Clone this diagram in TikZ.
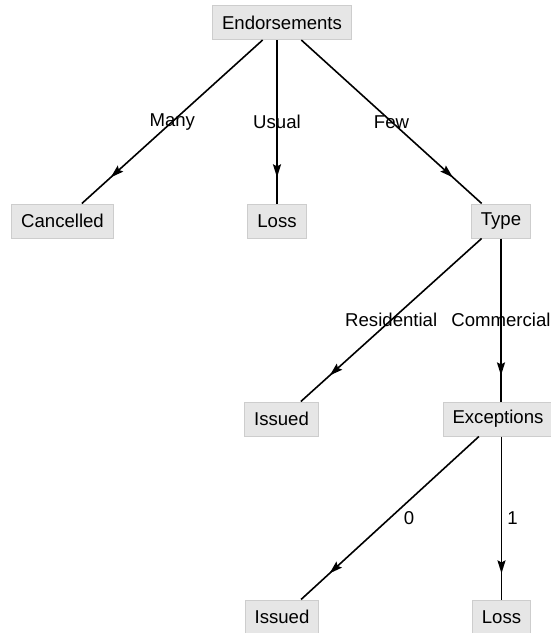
\documentclass[tikz,border=0pt]{standalone}
\usepackage{fontspec}
\setmainfont{Liberation Sans}
\usetikzlibrary{arrows.meta,decorations.markings}
\definecolor{boxfill}{HTML}{E6E6E6}
\definecolor{boxline}{HTML}{CDCDCD}
\tikzset{
  box/.style={draw=boxline, fill=boxfill, line width=1pt, inner xsep=9.5pt, minimum height=34pt, font=\fontsize{18.6}{22}\selectfont},
  lbl/.style={font=\fontsize{18.6}{22}\selectfont, inner sep=0pt},
  edge/.style={line width=1.6pt, postaction={decorate}, decoration={markings, mark=at position 0.84 with {\arrow{Stealth[length=13pt,width=8pt,inset=2pt]}}}}
}
\begin{document}
\begin{tikzpicture}[x=1pt,y=-1pt]
\useasboundingbox (0,0) rectangle (550,633);
\node[box] (end) at (282,22.5) {Endorsements};
\node[box] (can) at (62.5,221) {Cancelled};
\node[box] (loss1) at (277,221) {Loss};
\node[box] (type) at (501,221) {Type};
\node[box] (iss1) at (281.5,419) {Issued};
\node[box] (exc) at (498,419) {Exceptions};
\node[box] (iss2) at (282,617) {Issued};
\node[box] (loss2) at (501.5,617) {Loss};
\draw[edge] (end) -- node[lbl, pos=0.5] {Many} (can);
\draw[edge] (end.south -| loss1) -- node[lbl, pos=0.5] {Usual} (loss1);
\draw[edge] (end) -- node[lbl, pos=0.5] {Few} (type);
\draw[edge] (type) -- node[lbl, pos=0.5] {Residential} (iss1);
\draw[edge] (type) -- node[lbl, pos=0.5] {Commercial} (exc.north -| type);
\draw[edge] (exc) -- node[lbl, pos=0.5, xshift=19pt] {0} (iss2);
\draw[edge] (exc.south -| loss2) -- node[lbl, pos=0.5, xshift=11pt] {1} (loss2);
\end{tikzpicture}
\end{document}
